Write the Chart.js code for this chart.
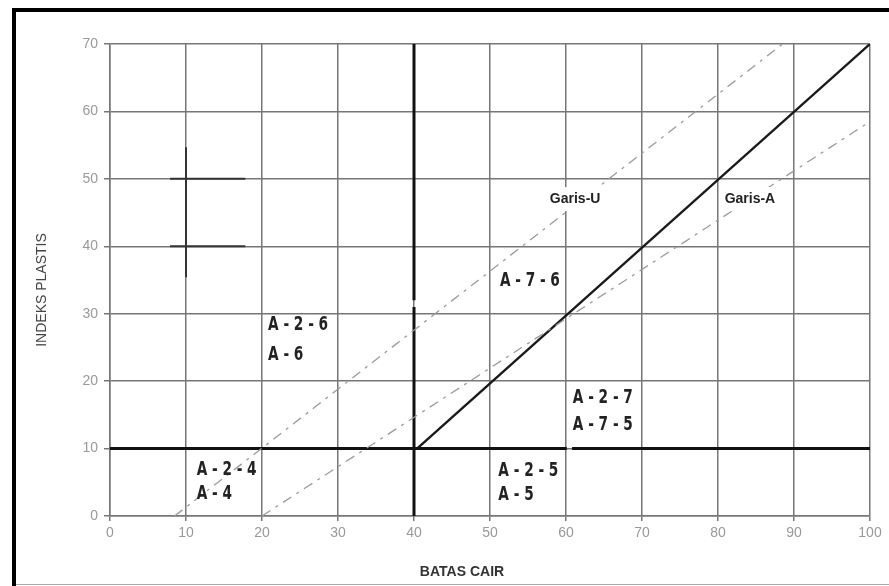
<!DOCTYPE html>
<html>
<head>
<meta charset="utf-8">
<script src="https://cdn.jsdelivr.net/npm/chart.js@4/dist/chart.umd.min.js"></script>
<style>
  body { margin: 0; background: #fff; }
  canvas { display: block; }
</style>
</head>
<body>
<canvas id="chartCanvas" width="889" height="586"></canvas>
<script>
// axis ranges (Batas Cair = x, Indeks Plastis = y)
const xRange = [0, 100];
const yRange = [0, 70];
const tickStep = 10;

// boundary lines [LL, PI]
const garisU = [[8.5, 0], [88.5, 70]];
const garisA = [[20, 0], [100, 58.5]];
const batasA75 = [[40.4, 10], [100, 70]];
const pi10Left = [[0, 10], [60.1, 10]];
const pi10Right = [[60.8, 10], [100, 10]];
const ll40Low = [[40, 0], [40, 31]];
const ll40High = [[40, 32], [40, 70]];

// small cross marks at the upper left
const crossV = [[10, 35.4], [10, 54.7]];
const crossH50 = [[7.9, 50], [17.8, 50]];
const crossH40 = [[7.9, 40], [17.8, 40]];

// group labels [text, LL, PI]
const groupLabels = [
    ["A - 2 - 6", 20.8, 28.3],
    ["A - 6", 20.8, 23.9],
    ["A - 7 - 6", 51.3, 34.9],
    ["A - 2 - 7", 60.9, 17.5],
    ["A - 7 - 5", 60.9, 13.5],
    ["A - 2 - 4", 11.4, 6.8],
    ["A - 4", 11.4, 3.3],
    ["A - 2 - 5", 51.1, 6.7],
    ["A - 5", 51.1, 3.1]
];
const lineLabels = [
    ["Garis-U", 61.2, 47.0],
    ["Garis-A", 84.2, 47.0]
];

const xTitle = "BATAS CAIR";
const yTitle = "INDEKS PLASTIS";

function toPoints(arr) {
    return arr.map(p => ({ x: p[0], y: p[1] }));
}

function lineSet(arr, color, width, dash) {
    return {
        data: toPoints(arr),
        showLine: true,
        borderColor: color,
        borderWidth: width,
        borderDash: dash || [],
        pointRadius: 0,
        fill: false
    };
}

const framePlugin = {
    id: "frame",
    beforeDraw(chart) {
        const ctx = chart.ctx;
        ctx.save();
        ctx.fillStyle = "#fff";
        ctx.fillRect(0, 0, chart.width, chart.height);
        ctx.fillStyle = "#000";
        ctx.fillRect(12, 8, 4, chart.height - 8);
        ctx.fillRect(12, 8, chart.width - 12, 4);
        ctx.fillStyle = "#aaa";
        ctx.fillRect(16, 584, chart.width - 16, 1);
        ctx.restore();
    },
    afterDraw(chart) {
        const ctx = chart.ctx;
        const xs = chart.scales.x;
        const ys = chart.scales.y;
        ctx.save();

        // axis titles
        ctx.fillStyle = "#333";
        ctx.font = "bold 14px 'Liberation Sans', Arial, sans-serif";
        ctx.textAlign = "center";
        ctx.textBaseline = "middle";
        ctx.fillText(xTitle, 462, 572);

        ctx.fillStyle = "#444";
        ctx.font = "14px 'Liberation Sans', Arial, sans-serif";
        ctx.translate(42, 290);
        ctx.rotate(-Math.PI / 2);
        ctx.fillText(yTitle, 0, 0);
        ctx.restore();

        // Garis labels with white box
        ctx.save();
        ctx.font = "bold 14px 'Liberation Sans', Arial, sans-serif";
        ctx.textAlign = "center";
        ctx.textBaseline = "middle";
        lineLabels.forEach(l => {
            const px = xs.getPixelForValue(l[1]);
            const py = ys.getPixelForValue(l[2]);
            const w = ctx.measureText(l[0]).width;
            ctx.fillStyle = "#fff";
            ctx.fillRect(px - w / 2 - 3, py - 12, w + 6, 24);
            ctx.fillStyle = "#222";
            ctx.fillText(l[0], px, py);
        });
        ctx.restore();

        // group labels, narrow bold
        ctx.save();
        ctx.font = "bold 20px 'DejaVu Sans Condensed', 'DejaVu Sans', sans-serif";
        ctx.textAlign = "left";
        ctx.textBaseline = "middle";
        ctx.fillStyle = "#222";
        groupLabels.forEach(l => {
            const px = xs.getPixelForValue(l[1]);
            const py = ys.getPixelForValue(l[2]);
            ctx.save();
            ctx.translate(px, py);
            ctx.scale(0.76, 1);
            ctx.fillText(l[0], 0, 0);
            ctx.restore();
        });
        ctx.restore();
    }
};

const gridColor = "#767676";
const tickFont = { family: "'Liberation Sans', Arial, sans-serif", size: 14 };

new Chart(document.getElementById("chartCanvas"), {
    type: "scatter",
    data: {
        datasets: [
            lineSet(garisU, "#9a9a9a", 1.3, [10, 6, 3, 6]),
            lineSet(garisA, "#9a9a9a", 1.3, [10, 6, 3, 6]),
            lineSet(pi10Left, "#111", 3),
            lineSet(pi10Right, "#111", 3),
            lineSet(ll40Low, "#111", 3),
            lineSet(ll40High, "#111", 3),
            lineSet(batasA75, "#1a1a1a", 2.4),
            lineSet(crossV, "#333", 2),
            lineSet(crossH50, "#333", 2),
            lineSet(crossH40, "#333", 2)
        ]
    },
    options: {
        responsive: false,
        animation: false,
        devicePixelRatio: 1,
        layout: { padding: { left: 0, right: 19, top: 44, bottom: 0 } },
        plugins: {
            legend: { display: false },
            tooltip: { enabled: false }
        },
        scales: {
            x: {
                type: "linear",
                min: xRange[0],
                max: xRange[1],
                grid: { color: gridColor, lineWidth: 1.5, tickLength: 5 },
                border: { color: gridColor, width: 1.5 },
                ticks: { stepSize: tickStep, color: "#999", font: tickFont, padding: 4, maxRotation: 0 },
                afterFit(scale) { scale.height = 70; }
            },
            y: {
                type: "linear",
                min: yRange[0],
                max: yRange[1],
                grid: { color: gridColor, lineWidth: 1.5, tickLength: 6 },
                border: { color: gridColor, width: 1.5 },
                ticks: { stepSize: tickStep, color: "#999", font: tickFont, padding: 6 },
                afterFit(scale) { scale.width = 110; }
            }
        }
    },
    plugins: [framePlugin]
});
</script>
</body>
</html>
